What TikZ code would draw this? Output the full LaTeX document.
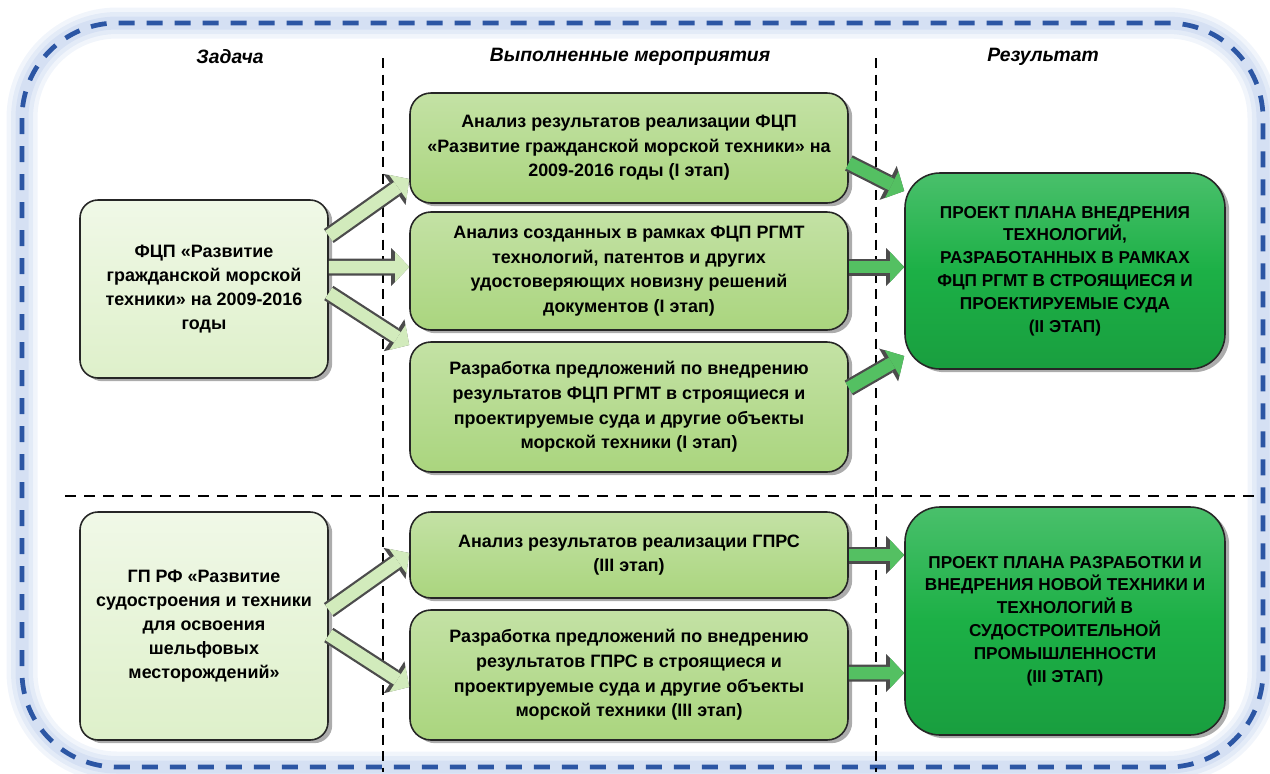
\documentclass[tikz,border=0pt]{standalone}
\usepackage{fontspec}
\setmainfont{Liberation Sans}
\usetikzlibrary{positioning,arrows.meta,shadows}

\definecolor{taskgreen}{RGB}{222,240,202}
\definecolor{actgreen}{RGB}{170,213,126}
\definecolor{resgreen}{RGB}{28,176,70}
\definecolor{frameblue}{RGB}{44,86,164}
\definecolor{glowblue}{RGB}{186,204,236}
\definecolor{arrlight}{RGB}{210,235,188}
\definecolor{arrdark}{RGB}{84,192,98}

\begin{document}
\begin{tikzpicture}[on grid,
    box/.style={draw=black!85, line width=0.9pt, align=center, inner sep=2pt,
                drop shadow={shadow xshift=2.4pt, shadow yshift=-1.8pt, opacity=0.65}},
    task/.style={box, rounded corners=0.36cm, minimum width=4.96cm,
                 top color=taskgreen!45!white, bottom color=taskgreen,
                 font=\bfseries\fontsize{10.2}{13.6}\selectfont},
    act/.style={box, rounded corners=0.42cm, minimum width=8.76cm,
                top color=actgreen!70!white, bottom color=actgreen,
                font=\bfseries\fontsize{10.2}{14}\selectfont},
    result/.style={box, rounded corners=0.7cm, minimum width=6.4cm,
                   top color=resgreen!80!white, bottom color=resgreen!90!black,
                   middle color=resgreen,
                   font=\bfseries\fontsize{9.8}{13}\selectfont},
    head/.style={font=\bfseries\itshape\fontsize{11}{13}\selectfont},
    divider/.style={black, line width=1.2pt, dash pattern=on 0.2cm off 0.13cm},
    larr/.style={draw=arrlight, line width=0.25cm,
                 -{Triangle[length=0.28cm, width=0.6cm, line width=0pt]},
                 preaction={draw=black!70, line width=0.34cm,
                            -{Triangle[length=0.36cm, width=0.76cm, line width=0pt]}}},
    rarr/.style={larr, draw=arrdark}]

\useasboundingbox (0,0) rectangle (25.4,-15.46);

\foreach \w/\o in {0.62/0.2, 0.44/0.25, 0.26/0.35}
    \draw[glowblue, line width=\w cm, opacity=\o, rounded corners=1.9cm]
        (0.44,-0.46) rectangle (25.26,-15.34);
\draw[frameblue, line width=2.7pt, dash pattern=on 0.32cm off 0.24cm,
      rounded corners=1.9cm] (0.44,-0.46) rectangle (25.26,-15.34);

\node[head] (hd1) at (4.6,-1.14) {Задача};
\node[head] (hd2) at (12.6,-1.14) {Выполненные мероприятия};
\node[head] (hd3) at (20.86,-1.14) {Результат};

\draw[divider] (7.66,-1.16) -- (7.66,-15.44);
\draw[divider] (17.52,-1.16) -- (17.52,-15.44);
\draw[divider, dash pattern=on 0.22cm off 0.16cm] (1.3,-9.92) -- (25.24,-9.92);

\node[act, minimum height=2.36cm] (m2) at (12.58,-5.42)
    {Анализ созданных в рамках ФЦП РГМТ\\технологий, патентов и других\\удостоверяющих новизну решений\\документов (I этап)};
\node[act, minimum height=2.2cm] (m1) [above=2.46cm of m2]
    {Анализ результатов реализации ФЦП\\«Развитие гражданской морской техники» на\\2009-2016 годы (I этап)};
\node[act, minimum height=2.6cm] (m3) [below=2.72cm of m2]
    {Разработка предложений по внедрению\\результатов ФЦП РГМТ в строящиеся и\\проектируемые суда и другие объекты\\морской техники (I этап)};
\node[act, minimum height=1.72cm] (m4) [below=2.96cm of m3]
    {Анализ результатов реализации ГПРС\\(III этап)};
\node[act, minimum height=2.6cm] (m5) [below=2.4cm of m4]
    {Разработка предложений по внедрению\\результатов ГПРС в строящиеся и\\проектируемые суда и другие объекты\\морской техники (III этап)};

\node[task, minimum height=3.56cm] (l1) [left=8.5cm of m2, yshift=-0.36cm]
    {ФЦП «Развитие\\гражданской морской\\техники» на 2009-2016\\годы};
\node[task, minimum height=4.56cm] (l2) [left=8.5cm of m4, yshift=-1.42cm]
    {ГП РФ «Развитие\\судостроения и техники\\для освоения\\шельфовых\\месторождений»};

\node[result, minimum height=3.92cm] (r1) [right=8.72cm of m2]
    {ПРОЕКТ ПЛАНА ВНЕДРЕНИЯ\\ТЕХНОЛОГИЙ,\\РАЗРАБОТАННЫХ В РАМКАХ\\ФЦП РГМТ В СТРОЯЩИЕСЯ И\\ПРОЕКТИРУЕМЫЕ СУДА\\(II ЭТАП)};
\node[result, minimum height=4.56cm] (r2) [right=8.72cm of m4, yshift=-1.32cm]
    {ПРОЕКТ ПЛАНА РАЗРАБОТКИ И\\ВНЕДРЕНИЯ НОВОЙ ТЕХНИКИ И\\ТЕХНОЛОГИЙ В\\СУДОСТРОИТЕЛЬНОЙ\\ПРОМЫШЛЕННОСТИ\\(III ЭТАП)};

\draw[larr] ([yshift=1.06cm]l1.east) -- ([yshift=-0.62cm]m1.west);
\draw[larr] ([yshift=0.44cm]l1.east) -- ([yshift=0.08cm]m2.west);
\draw[larr] ([yshift=-0.08cm]l1.east) -- ([yshift=1.24cm]m3.west);
\draw[larr] ([yshift=0.32cm]l2.east) -- ([yshift=0.04cm]m4.west);
\draw[larr] ([yshift=-0.18cm]l2.east) -- ([yshift=-0.24cm]m5.west);

\draw[rarr] ([yshift=-0.3cm]m1.east) -- ([yshift=1.6cm]r1.west);
\draw[rarr] ([yshift=0.08cm]m2.east) -- ([yshift=0.08cm]r1.west);
\draw[rarr] ([yshift=0.38cm]m3.east) -- ([yshift=-1.7cm]r1.west);
\draw[rarr] (m4.east) -- ([yshift=1.32cm]r2.west);
\draw[rarr] ([yshift=0.04cm]m5.east) -- ([yshift=-1.04cm]r2.west);
\end{tikzpicture}
\end{document}
